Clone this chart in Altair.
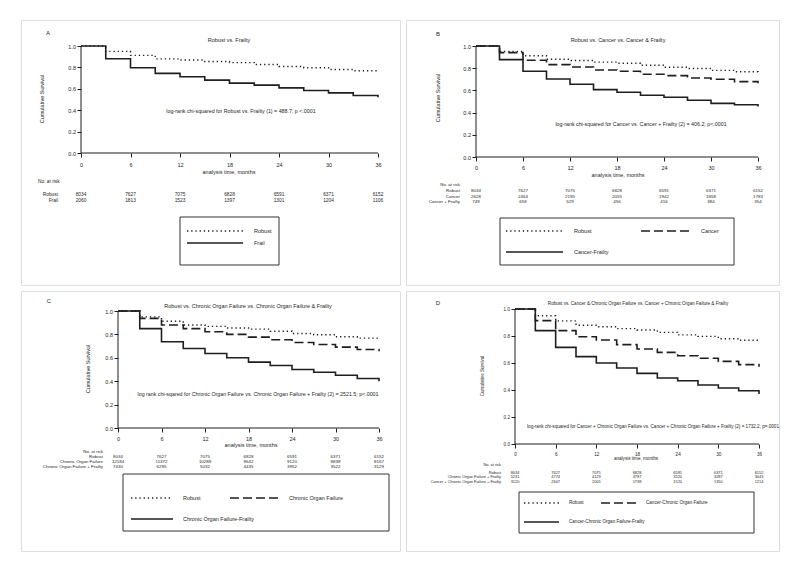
import altair as alt
import pandas as pd

# ---------------- data ----------------
months = [0, 3, 6, 9, 12, 15, 18, 21, 24, 27, 30, 33, 36]
risk_months = [0, 6, 12, 18, 24, 30, 36]
y_ticks = [0.0, 0.2, 0.4, 0.6, 0.8, 1.0]

robust_surv = [1.0, 0.950, 0.912, 0.880, 0.869, 0.855, 0.845, 0.827, 0.808, 0.797, 0.780, 0.768, 0.762]
frail_surv = [1.0, 0.881, 0.797, 0.744, 0.712, 0.681, 0.653, 0.634, 0.609, 0.584, 0.562, 0.537, 0.520]
cancer_surv = [1.0, 0.940, 0.871, 0.832, 0.811, 0.784, 0.772, 0.745, 0.733, 0.712, 0.700, 0.679, 0.664]
cancer_frail_surv = [1.0, 0.877, 0.772, 0.703, 0.655, 0.607, 0.583, 0.556, 0.538, 0.511, 0.483, 0.471, 0.456]
cof_surv = [1.0, 0.937, 0.880, 0.849, 0.823, 0.800, 0.777, 0.754, 0.731, 0.714, 0.691, 0.671, 0.657]
cof_frail_surv = [1.0, 0.849, 0.737, 0.680, 0.637, 0.600, 0.563, 0.534, 0.500, 0.477, 0.451, 0.423, 0.400]
cancer_cof_surv = [1.0, 0.914, 0.840, 0.795, 0.770, 0.736, 0.704, 0.679, 0.654, 0.635, 0.612, 0.588, 0.573]
cancer_cof_frail_surv = [1.0, 0.840, 0.716, 0.647, 0.600, 0.563, 0.523, 0.489, 0.469, 0.437, 0.415, 0.395, 0.370]

robust_risk = [8034, 7627, 7075, 6828, 6591, 6371, 6152]
frail_risk = [2060, 1813, 1523, 1397, 1301, 1204, 1106]
cancer_risk = [2628, 2464, 2195, 2055, 1942, 1858, 1783]
cancer_frail_risk = [749, 658, 529, 456, 416, 384, 354]
cof_risk = [12184, 11372, 10289, 9642, 9120, 8838, 8167]
cof_frail_risk = [7430, 6295, 5032, 4435, 3952, 3522, 3129]
cancer_cof_risk = [5231, 4774, 4129, 3797, 3520, 3287, 3043]
cancer_cof_frail_risk = [3120, 2607, 2005, 1738, 1520, 1350, 1214]

titles = [
    "Robust vs. Frailty",
    "Robust vs. Cancer vs. Cancer & Frailty",
    "Robust vs. Chronic Organ Failure vs. Chronic Organ Failure & Frailty",
    "Robust vs. Cancer & Chronic Organ Failure vs. Cancer  + Chronic Organ Failure & Frailty",
]
annotations = [
    "log-rank chi-squared for Robust vs. Frailty (1) = 488.7; p <.0001",
    "log-rank chi-squared for Cancer vs. Cancer + Frailty (2) = 406.2; p<.0001",
    "log rank chi-sqared for Chronic Organ Failure vs. Chronic Organ Failure + Frailty (2) = 2521.5; p<.0001",
    "log-rank chi-squared for Cancer + Chronic Organ Failure vs. Cancer + Chronic Organ Failure + Frailty (2) = 1732.2; p=.0001",
]

# ---------------- styling ----------------
FONT = "Liberation Sans"
INK = "#1e1e1e"
STYLE = {
    "dot": dict(strokeDash=[1.3, 2.9], strokeWidth=1.4),
    "dash": dict(strokeDash=[9, 4], strokeWidth=1.6),
    "solid": dict(strokeWidth=1.6),
}
one = pd.DataFrame({"k": [0]})

panels = [
    dict(origin=(20, 19), size=(379, 265), x0=80, x36=377, y1=45, y0=152,
         fs=5.5, tfs=4.8, afs=5.3, pad=5,
         letter=("A", 47, 32), title=(titles[0], 228, 39), ytitle=(41, 98), xtitle=(228, 171),
         annot=(annotations[0], 240, 110),
         nrisk=(37, 181, "left"), row_x=57,
         series=[("Robust", robust_surv, "dot"), ("Frail", frail_surv, "solid")],
         rows=[("Robust", robust_risk, 193.5), ("Frail", frail_risk, 199.5)],
         box=(179, 216, 278, 264),
         legend=[("dot", 186, 242, 230, 253, "Robust"), ("solid", 186, 242, 242, 253, "Frail")]),
    dict(origin=(405, 19), size=(373, 265), x0=475, x36=757, y1=45, y0=156,
         fs=5.5, tfs=4.4, afs=5.3, pad=4,
         letter=("B", 437, 33), title=(titles[1], 617, 39), ytitle=(437, 97), xtitle=(617, 174),
         annot=(annotations[1], 640, 123),
         nrisk=(459, 184, "right"), row_x=459,
         series=[("Robust", robust_surv, "dot"), ("Cancer", cancer_surv, "dash"),
                 ("Cancer-Frailty", cancer_frail_surv, "solid")],
         rows=[("Robust", robust_risk, 190), ("Cancer", cancer_risk, 195.5),
               ("Cancer + Frailty", cancer_frail_risk, 201)],
         box=(499, 217, 733, 264),
         legend=[("dot", 505, 562, 230, 573, "Robust"), ("dash", 640, 691, 230, 700, "Cancer"),
                 ("solid", 505, 562, 251, 573, "Cancer-Frailty")]),
    dict(origin=(20, 290), size=(379, 260), x0=117, x36=378, y1=310, y0=427,
         fs=5.5, tfs=4.4, afs=5.3, pad=4,
         letter=("C", 48, 300), title=(titles[2], 247, 305), ytitle=(87, 368), xtitle=(250, 444),
         annot=(annotations[2], 257, 393),
         nrisk=(102, 450.5, "right"), row_x=102,
         series=[("Robust", robust_surv, "dot"), ("Chronic Organ Failure", cof_surv, "dash"),
                 ("Chronic Organ Failure-Frailty", cof_frail_surv, "solid")],
         rows=[("Robust", robust_risk, 455.5), ("Chronic Organ Failure", cof_risk, 460.5),
               ("Chronic Organ Failure + Frailty", cof_frail_risk, 465.5)],
         box=(122, 473, 388, 530),
         legend=[("dot", 130, 172, 497, 182, "Robust"), ("dash", 229, 277, 497, 288, "Chronic Organ Failure"),
                 ("solid", 130, 172, 518, 182, "Chronic Organ Failure-Frailty")]),
    dict(origin=(405, 290), size=(373, 260), x0=514, x36=758, y1=308, y0=443,
         fs=4.6, tfs=3.9, afs=4.6, pad=3,
         letter=("D", 437, 302), title=(titles[3], 637, 303), ytitle=(482, 375), xtitle=(635, 458),
         annot=(annotations[3], 652, 426),
         nrisk=(500, 464, "right"), row_x=500,
         series=[("Robust", robust_surv, "dot"), ("Cancer-Chronic Organ Failure", cancer_cof_surv, "dash"),
                 ("Cancer-Chronic Organ Failure-Frailty", cancer_cof_frail_surv, "solid")],
         rows=[("Robust", robust_risk, 471.5), ("Chronic Organ Failure + Frailty", cancer_cof_risk, 476.3),
               ("Cancer + Chronic Organ Failure + Frailty", cancer_cof_frail_risk, 481.1)],
         box=(518, 491, 753, 532),
         legend=[("dot", 523, 558, 502, 568, "Robust"),
                 ("dash", 600, 635, 502, 645, "Cancer-Chronic Organ Failure"),
                 ("solid", 523, 558, 521, 568, "Cancer-Chronic Organ Failure-Frailty")]),
]


def build(p):
    ox, oy = p["origin"]
    W, H = p["size"]
    k = (p["x36"] - p["x0"]) / 36.0
    ky = float(p["y0"] - p["y1"])
    xs = alt.Scale(domain=[-(p["x0"] - ox) / k, (ox + W - p["x0"]) / k], nice=False, zero=False)
    ys = alt.Scale(domain=[-(oy + H - p["y0"]) / ky, (p["y0"] - oy) / ky], nice=False, zero=False)
    fs = p["fs"]
    common = dict(domain=False, grid=False, tickSize=4, tickColor=INK, tickWidth=1,
                  labelColor=INK, labelFontSize=fs, labelFont=FONT, title=None,
                  labelFlush=False, labelOverlap=False)
    xaxis = alt.Axis(values=risk_months, format="d", offset=-(oy + H - p["y0"]),
                     labelPadding=p["pad"], **common)
    yaxis = alt.Axis(values=y_ticks, format=".1f", offset=-(p["x0"] - ox), labelPadding=1.5, **common)

    def X():
        return alt.X("t:Q", scale=xs, axis=xaxis)

    def Y():
        return alt.Y("s:Q", scale=ys, axis=yaxis)

    def vx(px):
        return alt.value(px - ox)

    def vy(py):
        return alt.value(py - oy)

    def txt(s, x, y, size, align="center", angle=0):
        kw = dict(text=s, fontSize=size, font=FONT, color=INK, align=align, baseline="middle")
        if angle:
            kw["angle"] = angle
        return alt.Chart(one).mark_text(**kw).encode(x=vx(x), y=vy(y))

    layers = []
    axis_df = pd.DataFrame({"t": [0, 0], "s": [0, 0], "t2": [0, 36], "s2": [1, 0]})
    layers.append(alt.Chart(axis_df).mark_rule(color=INK, strokeWidth=1).encode(
        x=X(), y=Y(), x2="t2:Q", y2="s2:Q"))
    for name, surv, st in p["series"]:
        df = pd.DataFrame({"t": months, "s": surv})
        layers.append(alt.Chart(df).mark_line(interpolate="step-after", color=INK, **STYLE[st]).encode(
            x=X(), y=Y()))
    lt, lx, ly = p["letter"]
    layers.append(txt(lt, lx, ly, 6))
    tt, tx, ty = p["title"]
    layers.append(txt(tt, tx, ty, fs))
    layers.append(txt("Cumulative Survival", p["ytitle"][0], p["ytitle"][1], fs, angle=270))
    layers.append(txt("analysis time, months", p["xtitle"][0], p["xtitle"][1], fs))
    at, ax_, ay_ = p["annot"]
    layers.append(txt(at, ax_, ay_, p["afs"]))
    nx, ny, nal = p["nrisk"]
    layers.append(txt("No. at risk", nx, ny, p["tfs"], align=nal))
    for label, vals, ry in p["rows"]:
        df = pd.DataFrame({"t": risk_months, "n": vals})
        layers.append(alt.Chart(df).mark_text(fontSize=p["tfs"], font=FONT, color=INK,
                                               align="center", baseline="middle").encode(
            x=X(), y=vy(ry), text=alt.Text("n:Q", format="d")))
        layers.append(txt(label, p["row_x"], ry, p["tfs"], align="right"))
    bx1, by1, bx2, by2 = p["box"]
    layers.append(alt.Chart(one).mark_rect(fillOpacity=0, stroke="#333333", strokeWidth=1).encode(
        x=vx(bx1), x2=vx(bx2), y=vy(by1), y2=vy(by2)))
    for st, a, b, ly_, tx_, label in p["legend"]:
        layers.append(alt.Chart(one).mark_rule(color=INK, **STYLE[st]).encode(
            x=vx(a), x2=vx(b), y=vy(ly_)))
        layers.append(txt(label, tx_, ly_, fs, align="left"))
    return alt.layer(*layers).properties(width=W, height=H)


A, B, C, D = [build(p) for p in panels]
chart = alt.concat(A, B, C, D, columns=2, spacing=6, bounds="flush").properties(
    padding={"left": 12, "top": 11, "right": 10, "bottom": 10}
).configure_view(stroke="#f1f1f1", strokeWidth=1).configure(font=FONT, background="white")

chart.save("out.html", embed_options={"renderer": "svg", "actions": False})
